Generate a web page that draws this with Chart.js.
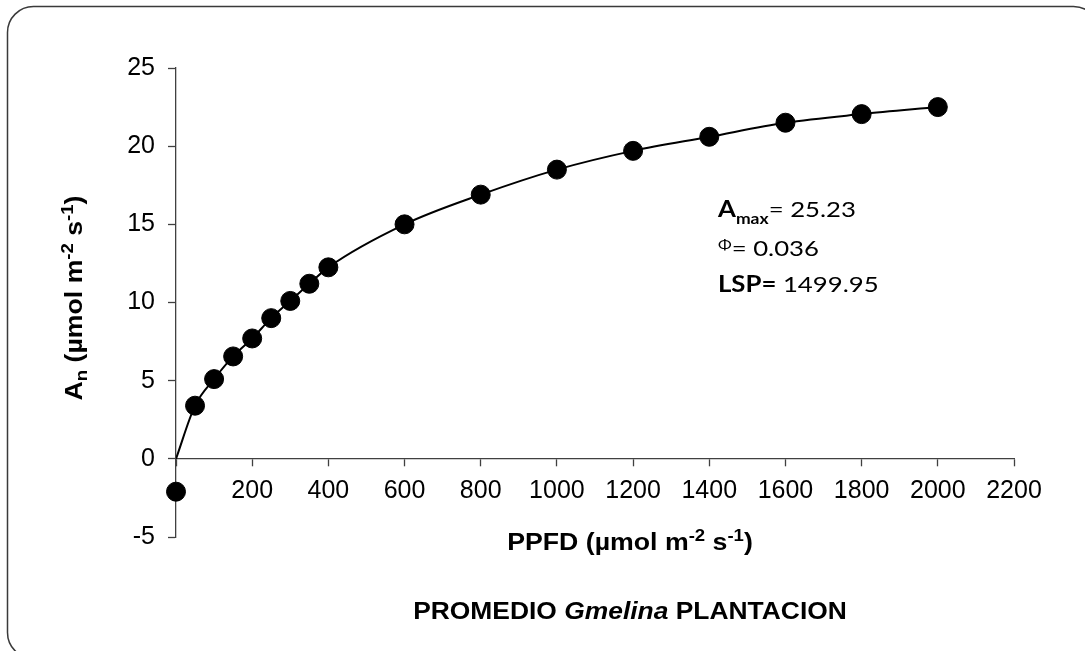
<!DOCTYPE html>
<html>
<head>
<meta charset="utf-8">
<script src="https://cdn.jsdelivr.net/npm/chart.js@4.4.1/dist/chart.umd.min.js"></script>
<style>
  html, body { margin: 0; padding: 0; background: #fff; }
  #wrap { position: relative; width: 1085px; height: 651px; }
</style>
</head>
<body>
<div id="wrap"><canvas id="luzChart" width="1085" height="651"></canvas></div>
<script>
// datos medidos (PPFD vs An)
const ppfd = [0, 50, 100, 150, 200, 250, 300, 350, 400, 600, 800, 1000, 1200, 1400, 1600, 1800, 2000];
const anMedido = [-2.1, 3.4, 5.1, 6.55, 7.7, 9.0, 10.1, 11.2, 12.25, 15.0, 16.9, 18.5, 19.7, 20.6, 21.5, 22.05, 22.5];

// curva ajustada
const ppfdCurva = [0, 50, 100, 150, 200, 250, 300, 350, 400, 600, 800, 1000, 1200, 1400, 1600, 1800, 2000];
const anCurva = [0, 3.4, 5.1, 6.55, 7.7, 9.0, 10.1, 11.2, 12.25, 15.0, 16.9, 18.5, 19.7, 20.6, 21.5, 22.05, 22.5];

// ejes
const xMin = 0, xMax = 2200, xPaso = 200;
const yMin = -5, yMax = 25, yPaso = 5;

// textos
const parametros = [
  { nombre: 'A', sub: 'max', valor: '= 25.23' },
  { nombre: 'Φ', valor: '= 0.036' },
  { nombre: 'LSP=', valor: ' 1499.95' }
];
const titulo = ['PROMEDIO ', 'Gmelina', ' PLANTACION'];

const ARIAL = '"Liberation Sans", Arial, sans-serif';
const CALIBRI = 'Lato, "Open Sans", sans-serif';
const EJE = '#404040';

// dibuja trozos de texto seguidos (sub/superindices), sx = estiramiento horizontal
function drawRuns(ctx, runs, x, y, align, sx) {
  let total = 0;
  runs.forEach(r => { ctx.font = r.font; r.w = ctx.measureText(r.text).width; total += r.w; });
  ctx.save();
  ctx.translate(x, y);
  ctx.scale(sx || 1, 1);
  let cx = align === 'center' ? -total / 2 : 0;
  runs.forEach(r => {
    ctx.font = r.font;
    ctx.fillText(r.text, cx, r.dy || 0);
    cx += r.w;
  });
  ctx.restore();
}

function unidades(big, small) {
  return [
    { text: ' (µmol m', font: big },
    { text: '-2', font: small, dy: -9 },
    { text: ' s', font: big },
    { text: '-1', font: small, dy: -9 },
    { text: ')', font: big }
  ];
}

const textosPlugin = {
  id: 'textos',
  beforeDraw(chart) {
    const ctx = chart.ctx;
    ctx.save();
    ctx.strokeStyle = '#3a3a3a';
    ctx.lineWidth = 1.5;
    ctx.beginPath();
    ctx.roundRect(7.5, 6.5, 1092, 652, 26);
    ctx.stroke();
    ctx.restore();
  },
  afterDraw(chart) {
    const ctx = chart.ctx;
    ctx.save();
    ctx.fillStyle = '#000';
    ctx.textBaseline = 'alphabetic';
    const big = 'bold 23px ' + ARIAL;
    const small = 'bold 16px ' + ARIAL;

    // titulo eje x
    drawRuns(ctx, [{ text: 'PPFD', font: big }].concat(unidades(big, small)), 630, 550, 'center', 1.16);

    // titulo eje y (rotado)
    ctx.save();
    ctx.translate(82, 298);
    ctx.rotate(-Math.PI / 2);
    drawRuns(ctx, [{ text: 'A', font: big }, { text: 'n', font: small, dy: 5 }].concat(unidades(big, small)), 0, 0, 'center', 1.16);
    ctx.restore();

    // titulo inferior
    drawRuns(ctx, [
      { text: titulo[0], font: 'bold 24px ' + ARIAL },
      { text: titulo[1], font: 'italic bold 24px ' + ARIAL },
      { text: titulo[2], font: 'bold 24px ' + ARIAL }
    ], 630, 619, 'center', 1.1);

    // parametros del ajuste
    const fb = 'bold 22px ' + CALIBRI;
    const fr = '22px ' + CALIBRI;
    const sx = 1.17;
    drawRuns(ctx, [
      { text: parametros[0].nombre, font: fb },
      { text: parametros[0].sub, font: 'bold 15px ' + CALIBRI, dy: 7 },
      { text: parametros[0].valor, font: fr }
    ], 718, 217, 'left', sx);
    drawRuns(ctx, [
      { text: parametros[1].nombre, font: '14px ' + CALIBRI, dy: -6 },
      { text: parametros[1].valor, font: fr }
    ], 718, 256, 'left', sx);
    drawRuns(ctx, [
      { text: parametros[2].nombre, font: fb },
      { text: parametros[2].valor, font: fr }
    ], 718, 292, 'left', sx);
    ctx.restore();
  }
};

new Chart(document.getElementById('luzChart').getContext('2d'), {
  type: 'scatter',
  data: {
    datasets: [
      {
        type: 'line',
        data: ppfdCurva.map((x, i) => ({ x: x, y: anCurva[i] })),
        borderColor: '#000',
        borderWidth: 2,
        pointRadius: 0,
        fill: false,
        cubicInterpolationMode: 'monotone',
        order: 2
      },
      {
        data: ppfd.map((x, i) => ({ x: x, y: anMedido[i] })),
        backgroundColor: '#000',
        borderColor: '#000',
        pointRadius: 9.5,
        clip: false,
        order: 1
      }
    ]
  },
  options: {
    responsive: false,
    animation: false,
    layout: { padding: { left: 66, right: 71, top: 68, bottom: 114 } },
    plugins: { legend: { display: false }, tooltip: { enabled: false } },
    scales: {
      x: {
        type: 'linear',
        position: { y: 0 },
        min: xMin, max: xMax,
        afterFit: s => { s.height = 0; },
        ticks: {
          stepSize: xPaso,
          padding: 10,
          color: '#000',
          font: { family: ARIAL, size: 25 },
          maxRotation: 0,
          callback: v => v === 0 ? '' : v
        },
        grid: { drawOnChartArea: false, drawTicks: true, tickLength: 7, tickColor: EJE, tickWidth: 1.3 },
        border: { color: EJE, width: 1.3 }
      },
      y: {
        type: 'linear',
        position: 'left',
        min: yMin, max: yMax,
        afterFit: s => { s.width = 110; },
        ticks: {
          stepSize: yPaso,
          padding: 13,
          color: '#000',
          font: { family: ARIAL, size: 25 }
        },
        grid: { drawOnChartArea: false, drawTicks: true, tickLength: 8, tickColor: EJE, tickWidth: 1.3 },
        border: { color: EJE, width: 1.3 }
      }
    }
  },
  plugins: [textosPlugin]
});
</script>
</body>
</html>
